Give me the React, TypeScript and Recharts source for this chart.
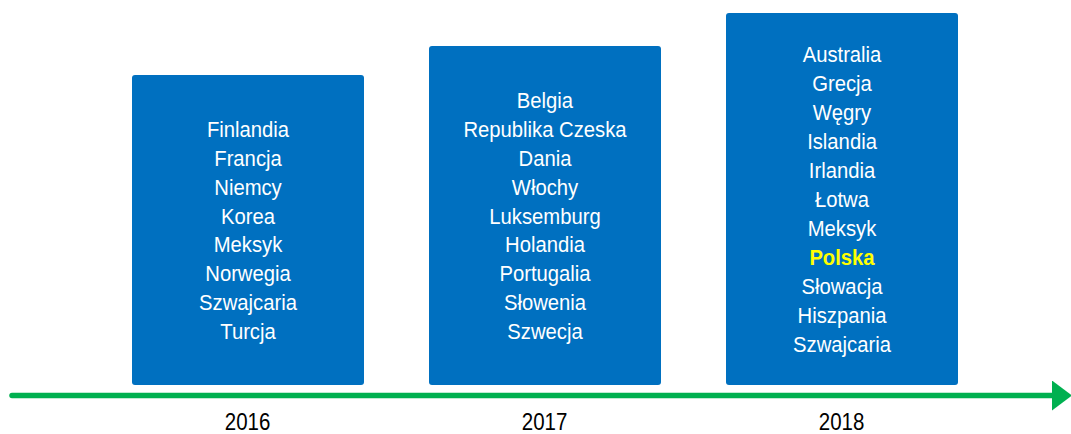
import { BarChart, Bar, XAxis, YAxis, LabelList } from "recharts";

const years = ["2016", "2017", "2018"];
// height of each box, read in pixels from the picture
const boxHeights = [310, 339, 372];

const countries2016 = ["Finlandia", "Francja", "Niemcy", "Korea", "Meksyk", "Norwegia", "Szwajcaria", "Turcja"];
const countries2017 = ["Belgia", "Republika Czeska", "Dania", "Włochy", "Luksemburg", "Holandia", "Portugalia", "Słowenia", "Szwecja"];
const countries2018 = ["Australia", "Grecja", "Węgry", "Islandia", "Irlandia", "Łotwa", "Meksyk", "Polska", "Słowacja", "Hiszpania", "Szwajcaria"];
const highlighted = ["Polska"];

const countriesByYear: Record<string, string[]> = {
  "2016": countries2016,
  "2017": countries2017,
  "2018": countries2018,
};

const data = years.map((year, i) => ({ year, box: boxHeights[i] }));

const FONT = "'Liberation Sans', Arial, sans-serif";
const LINE = 29;

const CountryList = (props: any) => {
  const { x, y, width, height, value } = props;
  const list = countriesByYear[value] || [];
  const cx = Number(x) + Number(width) / 2;
  const cy = Number(y) + Number(height) / 2;
  return (
    <g transform={`translate(${cx},${cy}) scale(0.9,1)`}>
      {list.map((name, i) => {
        const hl = highlighted.includes(name);
        return (
          <text
            key={name}
            x={0}
            y={(i - (list.length - 1) / 2) * LINE + 8}
            textAnchor="middle"
            fontFamily={FONT}
            fontSize={22.5}
            fontWeight={hl ? "bold" : "normal"}
            fill={hl ? "#FFFF00" : "#FFFFFF"}
          >
            {name}
          </text>
        );
      })}
    </g>
  );
};

const YearTick = (props: any) => {
  const { x, y, payload } = props;
  return (
    <g transform={`translate(${x},${y + 34}) scale(0.89,1)`}>
      <text x={0} y={0} textAnchor="middle" fontFamily={FONT} fontSize={23} fill="#000000">
        {payload.value}
      </text>
    </g>
  );
};

export default function App() {
  return (
    <div style={{ position: "absolute", left: 0, top: 0, background: "#fff" }}>
      <svg width={0} height={0} style={{ position: "absolute" }}>
        <defs>
          <marker
            id="greenArrow"
            markerUnits="userSpaceOnUse"
            markerWidth={20}
            markerHeight={30}
            refX={0}
            refY={15}
            orient="auto"
          >
            <path d="M0,0 L20,15 L0,30 Z" fill="#00B050" />
          </marker>
        </defs>
      </svg>
      <BarChart
        width={1071}
        height={434}
        data={data}
        margin={{ top: 13, right: 19, bottom: 0, left: 12 }}
      >
        <YAxis hide domain={[-10.5, 372]} allowDataOverflow />
        <XAxis
          dataKey="year"
          height={38.5}
          padding={{ left: 87, right: 62 }}
          tickLine={false}
          tickSize={0}
          tickMargin={0}
          axisLine={{
            stroke: "#00B050",
            strokeWidth: 5.5,
            strokeLinecap: "round",
            markerEnd: "url(#greenArrow)",
          }}
          tick={<YearTick />}
        />
        <Bar dataKey="box" fill="#0070C0" barSize={232} radius={3} isAnimationActive={false}>
          <LabelList dataKey="year" content={<CountryList />} />
        </Bar>
      </BarChart>
    </div>
  );
}
